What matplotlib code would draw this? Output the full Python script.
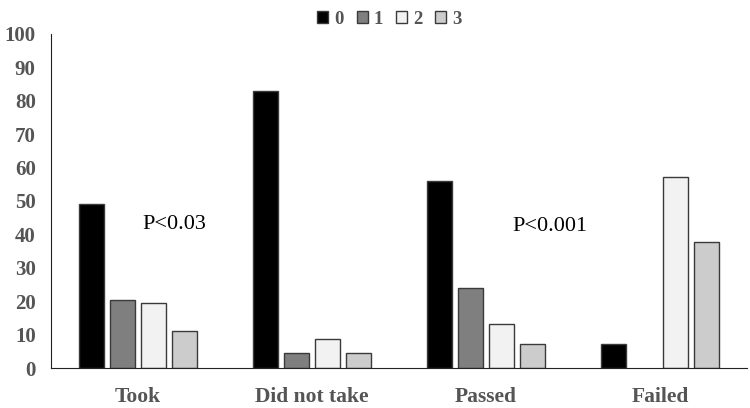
import matplotlib.pyplot as plt
import numpy as np

plt.rcParams['font.family'] = ['Liberation Serif', 'DejaVu Serif']

categories = ['Took', 'Did not take', 'Passed', 'Failed']
series_names = ['0', '1', '2', '3']
s0 = [49, 83, 56, 7.2]
s1 = [20.4, 4.5, 24, 0]
s2 = [19.5, 8.7, 13.2, 57.3]
s3 = [11.2, 4.5, 7.2, 37.8]
colors = ['#000000', '#7f7f7f', '#f2f2f2', '#cccccc']

fig = plt.figure(figsize=(7.5, 4.08), dpi=100)
ax = fig.add_axes([0.068, 0.098, 0.928, 0.819])

x = np.arange(len(categories))
w = 0.144
pitch = 0.178
data = [s0, s1, s2, s3]
for i in range(4):
    vals = np.array(data[i])
    ec = np.where(vals > 0, '#3a3a3a', 'none')
    ax.bar(x + (i - 1.5) * pitch, vals, width=w, color=colors[i],
           edgecolor=list(ec), linewidth=1.0, label=series_names[i])

ax.set_xlim(-0.5, 3.5)
ax.set_ylim(0, 100)
ax.set_yticks(np.arange(0, 101, 10))
ax.set_xticks(x)
ax.set_xticklabels(categories)
for sp in ['top', 'right']:
    ax.spines[sp].set_visible(False)
ax.spines['left'].set_color('#222222')
ax.spines['bottom'].set_color('#222222')
ax.tick_params(length=0, labelsize=15, labelcolor='#555555')
ax.tick_params(axis='y', pad=11)
ax.tick_params(axis='x', pad=14)
for t in ax.get_xticklabels():
    t.set_fontweight('bold')
    t.set_fontsize(15.5)
for t in ax.get_yticklabels():
    t.set_fontweight('bold')

ax.text(0.21, 43, 'P<0.03', fontsize=16, ha='center', va='center')
ax.text(2.37, 42.5, 'P<0.001', fontsize=16, ha='center', va='center')

leg = fig.legend(loc='upper center', bbox_to_anchor=(0.519, 1.015), ncol=4, frameon=False,
                 prop={'weight': 'bold', 'size': 13.5}, handlelength=0.6, handleheight=0.6,
                 handletextpad=0.3, columnspacing=0.7)
for t in leg.get_texts():
    t.set_color('#555555')

fig.savefig('out.png', dpi=100)
